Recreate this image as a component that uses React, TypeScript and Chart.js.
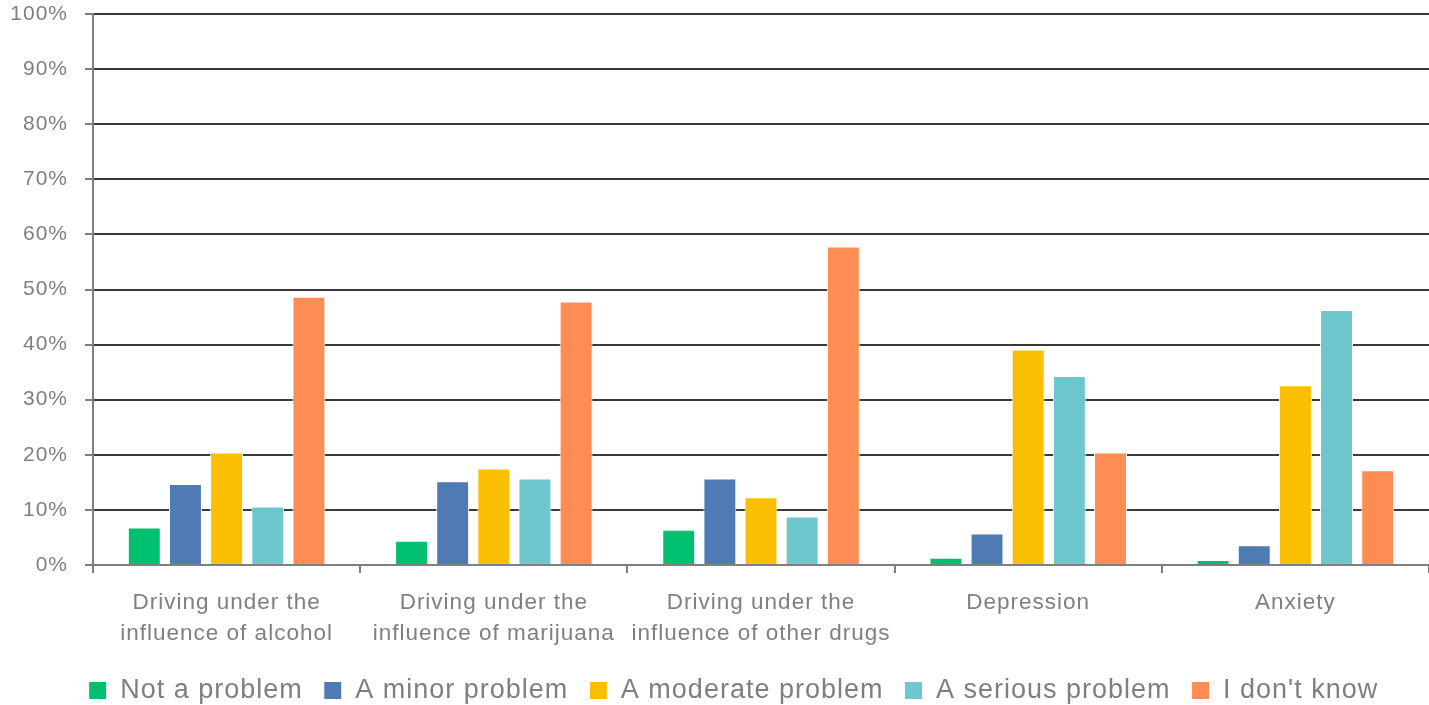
import React, { useEffect, useRef } from "react";
import { Chart, registerables } from "chart.js";

Chart.register(...registerables);

const categories: string[][] = [
  ["Driving under the", "influence of alcohol"],
  ["Driving under the", "influence of marijuana"],
  ["Driving under the", "influence of other drugs"],
  ["Depression"],
  ["Anxiety"],
];

const seriesNames = ["Not a problem", "A minor problem", "A moderate problem", "A serious problem", "I don't know"];
const notAProblem = [6.8, 4.4, 6.4, 1.3, 0.9];
const minorProblem = [14.7, 15.2, 15.7, 5.7, 3.6];
const moderateProblem = [20.4, 17.5, 12.3, 39.1, 32.6];
const seriousProblem = [10.6, 15.7, 8.8, 34.3, 46.3];
const dontKnow = [48.7, 47.8, 57.8, 20.4, 17.2];
const seriesColors = ["#00BF6F", "#4F7BB5", "#F9BF00", "#6CC8CC", "#FF8C52"];
const yTicks = [0, 10, 20, 30, 40, 50, 60, 70, 80, 90, 100];

const spacingPlugin = {
  id: "letterSpacing",
  beforeUpdate(chart: any) {
    chart.ctx.letterSpacing = "1px";
  },
  afterLayout(chart: any) {
    if (chart.legend) {
      chart.legend.left += 19;
      chart.legend.right += 19;
    }
  },
  beforeDraw(chart: any) {
    chart.ctx.letterSpacing = "1px";
  },
};

export default function App() {
  const ref = useRef<HTMLCanvasElement | null>(null);
  useEffect(() => {
    if (!ref.current) return;
    const values = [notAProblem, minorProblem, moderateProblem, seriousProblem, dontKnow];
    const gray = "#7f7f7f";
    const font = "'Liberation Sans', Arial, sans-serif";
    const chart = new Chart(ref.current, {
      type: "bar",
      plugins: [spacingPlugin],
      data: {
        labels: categories,
        datasets: values.map((v, i) => ({
          label: seriesNames[i],
          data: v,
          backgroundColor: seriesColors[i],
          borderColor: "#ffffff",
          borderWidth: 1,
          categoryPercentage: 0.77,
          barPercentage: 0.8,
        })),
      },
      options: {
        animation: false,
        responsive: false,
        maintainAspectRatio: false,
        layout: { padding: { top: 14, right: 0, left: 0, bottom: -9 } },
        plugins: {
          tooltip: { enabled: false },
          legend: {
            position: "bottom",
            labels: {
              color: gray,
              font: { family: font, size: 27 },
              boxWidth: 18,
              boxHeight: 18,
              padding: 21,
            },
          },
        },
        scales: {
          x: {
            grid: {
              drawOnChartArea: false,
              drawTicks: true,
              tickLength: 8,
              tickColor: gray,
              lineWidth: 2,
              offset: true,
            },
            border: { color: gray, width: 2 },
            ticks: {
              color: gray,
              font: { family: font, size: 22.5, lineHeight: 1.38 },
              padding: 14,
              maxRotation: 0,
              autoSkip: false,
            },
            afterFit: (s: any) => {
              s.height = 91;
            },
          },
          y: {
            min: 0,
            max: 100,
            afterBuildTicks: (s: any) => {
              s.ticks = yTicks.map((v) => ({ value: v }));
            },
            grid: {
              color: "#3a3a3a",
              lineWidth: 2,
              tickLength: 8,
              tickColor: gray,
            },
            border: { color: gray, width: 2 },
            ticks: {
              color: gray,
              font: { family: font, size: 21 },
              padding: 17,
              callback: (v: any) => v + "%",
            },
            afterFit: (s: any) => {
              s.width = 93;
              s.paddingTop = 0;
              s.paddingBottom = 0;
            },
          },
        },
      },
    });
    return () => chart.destroy();
  }, []);
  return (
    <div style={{ position: "absolute", left: 0, top: 0, width: 1429, height: 705, background: "#fff" }}>
      <canvas ref={ref} width={1429} height={705} style={{ width: 1429, height: 705 }} />
    </div>
  );
}
